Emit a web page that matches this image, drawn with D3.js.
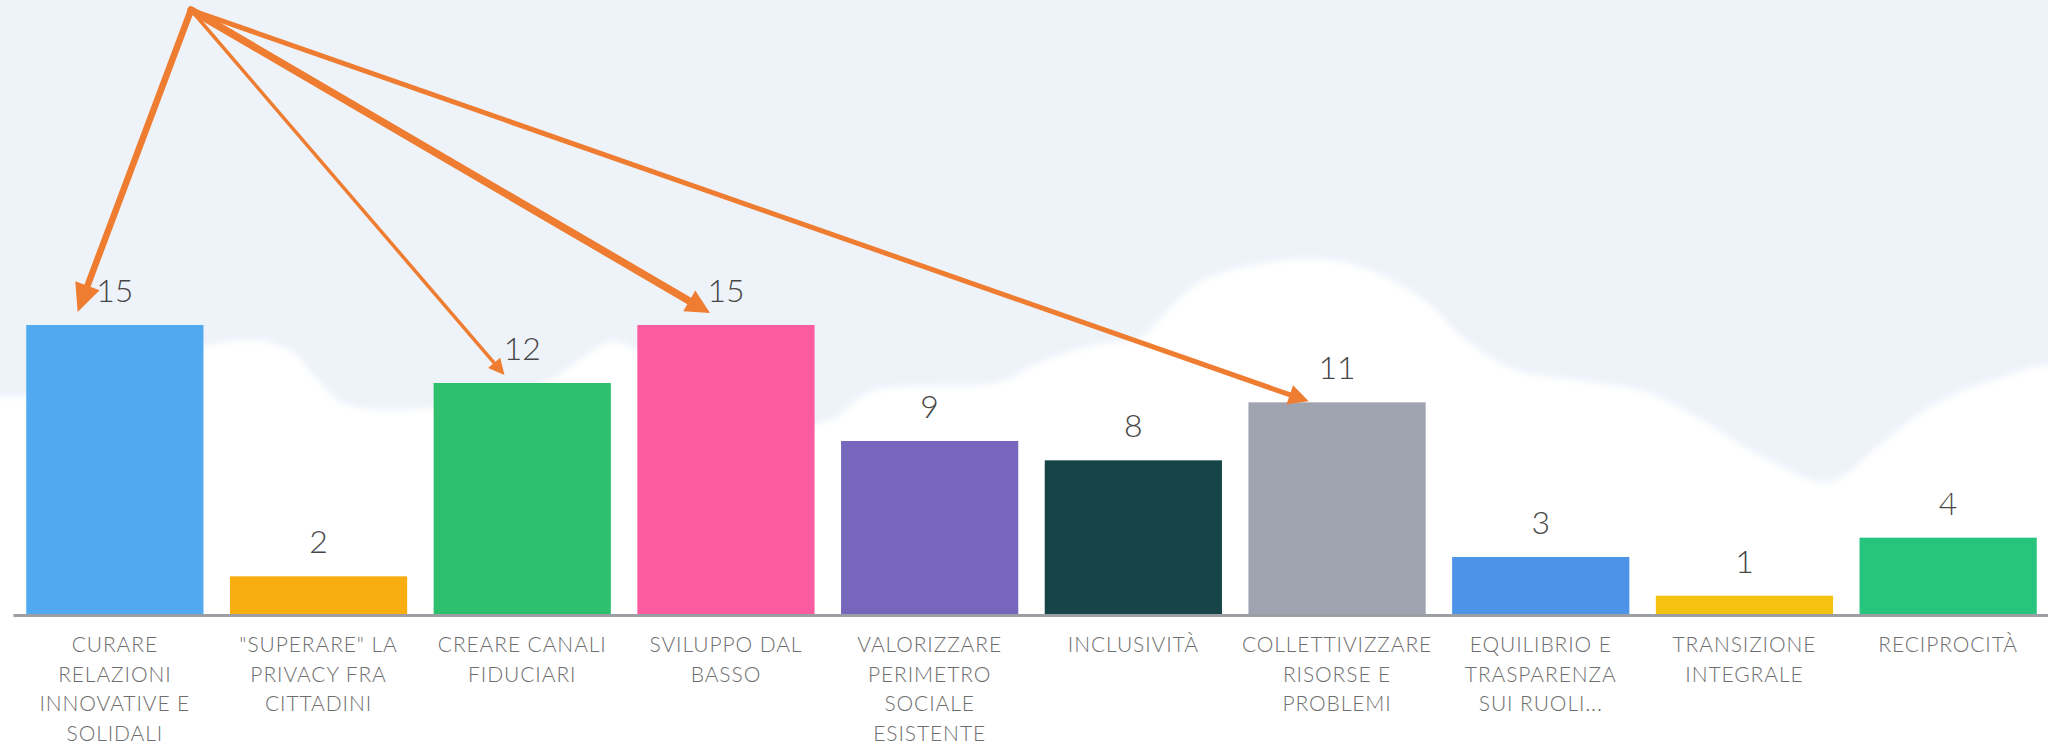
<!DOCTYPE html>
<html>
<head>
<meta charset="utf-8">
<script src="https://cdn.jsdelivr.net/npm/d3@7"></script>
<style>
  html, body { margin: 0; padding: 0; background: #ffffff; }
  svg { display: block; }
</style>
</head>
<body>
<svg id="chart" width="2048" height="749"></svg>
<script>
// ---- data ----
const categories = [
  "CURARE\nRELAZIONI\nINNOVATIVE E\nSOLIDALI",
  "\"SUPERARE\" LA\nPRIVACY FRA\nCITTADINI",
  "CREARE CANALI\nFIDUCIARI",
  "SVILUPPO DAL\nBASSO",
  "VALORIZZARE\nPERIMETRO\nSOCIALE\nESISTENTE",
  "INCLUSIVITÀ",
  "COLLETTIVIZZARE\nRISORSE E\nPROBLEMI",
  "EQUILIBRIO E\nTRASPARENZA\nSUI RUOLI...",
  "TRANSIZIONE\nINTEGRALE",
  "RECIPROCITÀ"
];
const values = [15, 2, 12, 15, 9, 8, 11, 3, 1, 4];
const barColors = ["#51aaf0", "#f9ad10", "#2ec06d", "#fb5ca0", "#7667bd",
                   "#164447", "#a0a4b1", "#4d94e8", "#f5c20f", "#27c47e"];
// annotation arrows: target category index
const arrowTargets = [0, 2, 3, 6];

// ---- layout ----
const W = 2048, H = 749;
const baseY = 615;
const svg = d3.select("#chart");

const x = d3.scaleBand().domain(categories).range([13, 2050])
  .paddingInner(0.13).paddingOuter(0.065);
const y = d3.scaleLinear().domain([0, 15]).range([baseY, 325]);

// background sky
svg.append("rect").attr("width", W).attr("height", H).attr("fill", "#eef3fa");

// clouds (decoration)
const defs = svg.append("defs");
defs.append("filter").attr("id", "soft").append("feGaussianBlur").attr("stdDeviation", 3);
const cloudOutline = [
  [-10, 402], [25, 396], [120, 372], [205, 346], [255, 340], [292, 352], [318, 380],
  [345, 404], [430, 408], [540, 385], [612, 342], [640, 352], [760, 422],
  [830, 420], [870, 392], [1000, 382], [1040, 362], [1090, 346], [1140, 338],
  [1168, 310], [1200, 282], [1254, 265], [1306, 259], [1358, 266], [1424, 300],
  [1463, 338], [1515, 370], [1567, 379], [1646, 392], [1698, 418], [1763, 457],
  [1829, 482], [1881, 444], [1933, 405], [1998, 379], [2060, 370]
];
const cloudPts = cloudOutline.concat([[2060, 760], [-10, 760]]);
svg.append("path")
  .attr("d", d3.line().curve(d3.curveCatmullRomClosed)(cloudPts))
  .attr("fill", "#ffffff")
  .attr("filter", "url(#soft)");
svg.append("rect").attr("x", 0).attr("y", baseY - 5).attr("width", W).attr("height", H - baseY + 5)
  .attr("fill", "#ffffff");

// bars
svg.append("g").selectAll("rect").data(values).join("rect")
  .attr("x", (d, i) => x(categories[i]))
  .attr("y", d => y(d))
  .attr("width", x.bandwidth())
  .attr("height", d => baseY - y(d))
  .attr("fill", (d, i) => barColors[i]);

// axis baseline
const axis = d3.axisBottom(x).tickSize(0).tickFormat("");
const gAxis = svg.append("g").attr("transform", `translate(0,${baseY})`).call(axis);
gAxis.select(".domain").attr("stroke", "#9b9ea3").attr("stroke-width", 3);

// value labels
svg.append("g").selectAll("text").data(values).join("text")
  .attr("x", (d, i) => x(categories[i]) + x.bandwidth() / 2)
  .attr("y", d => y(d) - 23)
  .attr("text-anchor", "middle")
  .attr("font-family", "Lato, 'Open Sans', sans-serif")
  .attr("font-weight", 300)
  .attr("font-size", 32)
  .attr("fill", "#474747")
  .text(d => d);

// category labels
const catG = svg.append("g");
categories.forEach((c, i) => {
  const t = catG.append("text")
    .attr("x", x(c) + x.bandwidth() / 2)
    .attr("y", baseY + 37)
    .attr("text-anchor", "middle")
    .attr("font-family", "Lato, 'Open Sans', sans-serif")
    .attr("font-weight", 300)
    .attr("font-size", 21)
    .attr("letter-spacing", 0.9)
    .attr("fill", "#6e6e6e");
  c.split("\n").forEach((line, j) => {
    t.append("tspan").attr("x", x(c) + x.bandwidth() / 2)
      .attr("dy", j === 0 ? 0 : 29.5).text(line);
  });
});

// annotation arrows
const apex = [191, 10];
const arrowStyle = [
  { frac: 0.29, gap: 13, w: 6.5, L: 28, hw: 13 },
  { frac: 0.40, gap: 8, w: 3.5, L: 16, hw: 8 },
  { frac: 0.41, gap: 12, w: 7.5, L: 24, hw: 12 },
  { frac: 0.34, gap: 1, w: 5, L: 20, hw: 10 }
];
const arrG = svg.append("g");
arrowTargets.forEach((idx, k) => {
  const s = arrowStyle[k];
  const tip = [x(categories[idx]) + x.bandwidth() * s.frac, y(values[idx]) - s.gap];
  const dx = tip[0] - apex[0], dy = tip[1] - apex[1];
  const len = Math.hypot(dx, dy);
  const ux = dx / len, uy = dy / len;
  const base = [tip[0] - ux * s.L, tip[1] - uy * s.L];
  arrG.append("line")
    .attr("x1", apex[0]).attr("y1", apex[1])
    .attr("x2", base[0] + ux * 2).attr("y2", base[1] + uy * 2)
    .attr("stroke", "#ee7d31").attr("stroke-width", s.w).attr("stroke-linecap", "round");
  const p1 = [base[0] - uy * s.hw, base[1] + ux * s.hw];
  const p2 = [base[0] + uy * s.hw, base[1] - ux * s.hw];
  arrG.append("path")
    .attr("d", `M${tip[0]},${tip[1]}L${p1[0]},${p1[1]}L${p2[0]},${p2[1]}Z`)
    .attr("fill", "#ee7d31");
});
</script>
</body>
</html>
